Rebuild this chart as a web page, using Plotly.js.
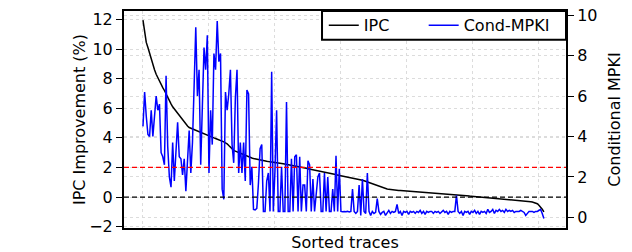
<!DOCTYPE html>
<html>
<head>
<meta charset="utf-8">
<script src="https://cdn.plot.ly/plotly-3.0.1.min.js"></script>
<style>html,body{margin:0;padding:0;background:#fff;}#chart{width:632px;height:252px;}</style>
</head>
<body>
<div id="chart"></div>
<script>
// IPC improvement (%) per trace, sorted descending
const ipcImprovement = [
11.95,11.2,10.45,10.1,9.7,9.3,8.9,8.6,8.3,8.05,
7.8,7.6,7.4,7.2,6.95,6.7,6.45,6.3,6.1,5.95,
5.8,5.65,5.5,5.35,5.2,5.1,4.95,4.8,4.7,4.65,
4.6,4.55,4.5,4.45,4.4,4.35,4.3,4.27,4.23,4.18,
4.13,4.08,4.04,4.0,3.96,3.92,3.88,3.84,3.8,3.73,
3.66,3.6,3.48,3.36,3.25,3.16,3.1,3.05,3.0,2.95,
2.9,2.85,2.8,2.75,2.7,2.67,2.64,2.61,2.58,2.55,
2.52,2.49,2.47,2.45,2.43,2.42,2.4,2.39,2.37,2.36,
2.34,2.33,2.31,2.29,2.27,2.25,2.23,2.21,2.2,2.18,
2.16,2.14,2.11,2.09,2.07,2.05,2.02,2.0,1.97,1.94,
1.91,1.89,1.86,1.84,1.81,1.78,1.76,1.74,1.72,1.7,
1.68,1.66,1.64,1.62,1.6,1.57,1.54,1.51,1.49,1.47,
1.45,1.43,1.41,1.39,1.37,1.35,1.33,1.31,1.29,1.27,
1.24,1.21,1.18,1.14,1.1,1.06,1.02,0.98,0.93,0.88,
0.83,0.78,0.74,0.7,0.66,0.63,0.6,0.57,0.54,0.52,
0.5,0.49,0.48,0.47,0.46,0.45,0.44,0.43,0.42,0.41,
0.4,0.39,0.38,0.37,0.36,0.35,0.34,0.33,0.32,0.31,
0.3,0.29,0.28,0.27,0.26,0.25,0.24,0.23,0.22,0.21,
0.2,0.19,0.18,0.17,0.16,0.15,0.14,0.13,0.12,0.115,
0.11,0.1,0.095,0.09,0.085,0.08,0.075,0.07,0.065,0.06,
0.05,0.04,0.03,0.02,0.01,0.0,-0.01,-0.02,-0.03,-0.04,
-0.05,-0.06,-0.065,-0.07,-0.075,-0.09,-0.1,-0.11,-0.12,-0.13,
-0.14,-0.15,-0.16,-0.17,-0.18,-0.19,-0.2,-0.21,-0.22,-0.23,
-0.24,-0.25,-0.26,-0.28,-0.3,-0.32,-0.34,-0.36,-0.38,-0.45,
-0.55,-0.67,-0.82,-1.0
];

// Conditional-branch MPKI per trace (same order)
const condMpki = [
4.5,6.2,5.0,4.1,4.0,5.3,4.0,5.0,6.0,5.3,
5.6,3.2,3.0,2.6,7.0,3.5,2.0,1.5,3.7,1.8,
3.5,4.7,3.0,2.9,2.1,2.9,1.3,3.0,4.3,2.2,
3.7,6.5,9.4,6.0,7.3,2.6,5.5,8.4,7.3,9.0,
2.2,5.3,3.6,8.1,7.3,9.7,7.7,8.1,1.4,0.9,
6.2,5.3,6.1,7.3,3.6,2.7,5.9,7.3,2.2,3.7,
2.2,3.7,1.8,6.3,6.1,1.6,2.5,0.4,0.37,0.45,
1.7,3.4,3.6,0.3,0.3,1.8,2.2,0.3,7.2,0.3,
2.3,5.3,0.3,0.3,2.5,0.3,0.3,5.7,0.3,0.3,
2.9,0.3,3.0,3.1,0.3,3.0,0.3,1.6,1.6,0.3,
2.8,2.6,0.3,1.9,0.3,1.4,2.0,2.2,0.3,0.3,
2.2,0.3,2.0,0.3,0.3,1.4,0.3,3.05,0.3,2.4,
0.3,0.28,0.3,0.28,0.3,0.27,0.3,1.4,0.3,0.2,
0.3,1.6,0.1,1.9,0.3,0.2,2.2,0.3,0.1,0.3,
0.2,0.25,0.93,0.3,0.15,0.25,0.3,0.1,0.2,0.35,
0.2,0.3,0.25,0.3,0.65,0.2,0.3,0.1,0.3,0.25,
0.3,0.15,0.3,0.25,0.3,0.2,0.3,0.25,0.35,0.2,
0.3,0.15,0.3,0.25,0.3,0.3,0.2,0.3,0.25,0.3,
0.2,0.3,0.35,0.25,0.3,0.15,0.3,0.25,0.3,0.3,
1.1,0.3,0.2,0.3,0.1,0.3,0.25,0.3,0.15,0.3,
0.25,0.35,0.2,0.3,0.15,0.3,0.25,0.3,0.2,0.4,
0.25,0.3,0.4,0.2,0.35,0.3,0.4,0.3,0.35,0.25,
0.4,0.3,0.35,0.3,0.35,0.25,0.3,0.3,0.3,0.35,
0.3,0.25,0.1,0.2,0.3,0.3,0.3,0.25,0.3,0.3,
0.35,0.4,0.2,-0.05
];

const seriesNames = ["IPC", "Cond-MPKI"];
const referenceLevels = [0, 2];   // IPC improvement guide lines (%)
const leftTicks = [-2, 0, 2, 4, 6, 8, 10, 12];
const rightTicks = [0, 2, 4, 6, 8, 10];

const traceIndex = ipcImprovement.map((_, i) => i);

const FONT = "DejaVu Sans, Liberation Sans, sans-serif";

const data = [
  {
    x: traceIndex, y: ipcImprovement, name: seriesNames[0],
    type: "scatter", mode: "lines", yaxis: "y", legend: "legend",
    line: {color: "#000000", width: 1.5}
  },
  {
    x: traceIndex, y: condMpki, name: seriesNames[1],
    type: "scatter", mode: "lines", yaxis: "y2", legend: "legend2",
    line: {color: "#0000ff", width: 1.5}
  }
];

const legendCommon = {
  orientation: "h", y: 0.934, yanchor: "middle",
  bgcolor: "rgba(0,0,0,0)", borderwidth: 0,
  font: {family: FONT, size: 16, color: "#000000"}
};

const layout = {
  width: 632, height: 252,
  margin: {l: 124, r: 66, t: 8, b: 24, pad: 0},
  paper_bgcolor: "#ffffff", plot_bgcolor: "#ffffff",
  font: {family: FONT, size: 16, color: "#000000"},
  showlegend: true,
  legend: Object.assign({x: 0.452, xanchor: "left"}, legendCommon),
  legend2: Object.assign({x: 0.678, xanchor: "left"}, legendCommon),
  xaxis: {
    range: [-11.5, 256.4], tick0: 0, dtick: 40,
    showticklabels: false, ticks: "",
    showgrid: true, gridcolor: "#dcdcdc", griddash: "dot", gridwidth: 1,
    zeroline: false, showline: true, linecolor: "#000000", linewidth: 2, mirror: true,
    title: {text: "Sorted traces", font: {family: FONT, size: 16}, standoff: 8}
  },
  yaxis: {
    range: [-2.09, 12.57], tickvals: leftTicks,
    ticktext: leftTicks.map(v => v < 0 ? "\u2212" + Math.abs(v) : String(v)),
    ticks: "outside", ticklen: 6, tickwidth: 1, tickcolor: "#000000",
    showgrid: true, gridcolor: "#dcdcdc", griddash: "dot", gridwidth: 1,
    zeroline: false, showline: true, linecolor: "#000000", linewidth: 2, mirror: true,
    tickfont: {family: FONT, size: 16},
    title: {text: "IPC Improvement (%)", font: {family: FONT, size: 16}, standoff: 0}
  },
  yaxis2: {
    overlaying: "y", side: "right",
    range: [-0.52, 10.2], tickvals: rightTicks,
    ticks: "outside", ticklen: 6, tickwidth: 1, tickcolor: "#000000",
    showgrid: true, gridcolor: "#dcdcdc", griddash: "dot", gridwidth: 1,
    zeroline: false, showline: true, linecolor: "#000000", linewidth: 2,
    tickfont: {family: FONT, size: 16},
    title: {text: "Conditional MPKI", font: {family: FONT, size: 16}, standoff: 12}
  },
  shapes: [
    {type: "line", xref: "paper", yref: "y", x0: 0, x1: 1,
     y0: referenceLevels[0], y1: referenceLevels[0], layer: "above",
     line: {color: "#000000", width: 1.3, dash: "5px,3px"}},
    {type: "line", xref: "paper", yref: "y", x0: 0, x1: 1,
     y0: referenceLevels[1], y1: referenceLevels[1], layer: "above",
     line: {color: "#ff0000", width: 1.3, dash: "5px,3px"}},
    // legend frame
    {type: "rect", xref: "paper", yref: "paper", x0: 0.448, x1: 1, y0: 0.868, y1: 1,
     layer: "above", fillcolor: "#ffffff", line: {color: "#000000", width: 2}}
  ]
};

Plotly.newPlot("chart", data, layout, {displayModeBar: false, staticPlot: true});
</script>
</body>
</html>
